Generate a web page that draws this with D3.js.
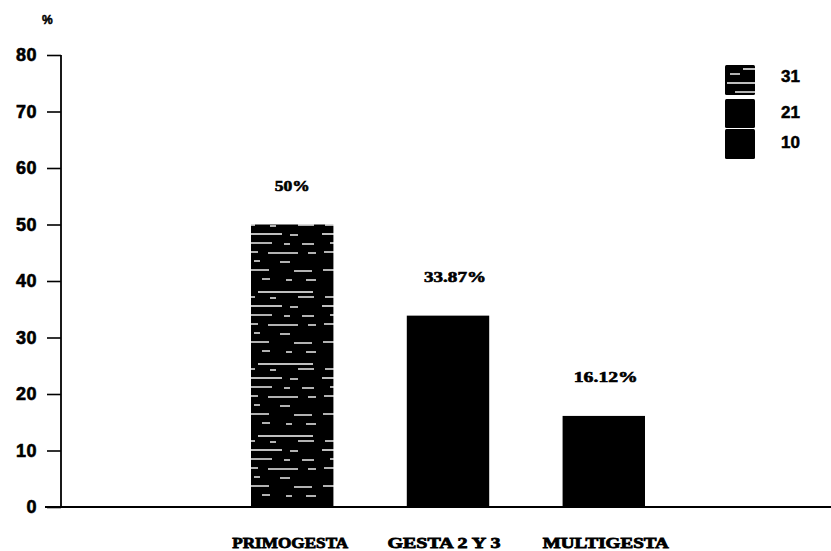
<!DOCTYPE html>
<html>
<head>
<meta charset="utf-8">
<script src="https://cdn.jsdelivr.net/npm/d3@7"></script>
<style>
  html, body { margin: 0; padding: 0; background: #fff; }
  svg { display: block; }
</style>
</head>
<body>
<svg id="chart" width="831" height="551"></svg>
<script>
// Gestation groups, share of cases (%) and case counts
const categories = ["PRIMOGESTA", "GESTA 2 Y 3", "MULTIGESTA"];
const percents = [50, 33.87, 16.12];
const valueLabels = ["50%", "33.87%", "16.12%"];
const counts = [31, 21, 10];
const yTicks = [0, 10, 20, 30, 40, 50, 60, 70, 80];

const svg = d3.select("#chart");
const W = 831;

// Plot frame
const x0 = 61, yBottom = 507, yTop = 55;

const y = d3.scaleLinear().domain([0, 80]).range([yBottom, yTop]);
const x = d3.scaleBand().domain(categories).range([251, 645])
  .paddingInner(0.471).paddingOuter(0);

// Speckled texture for the first group
const defs = svg.append("defs");
const pat = defs.append("pattern")
  .attr("id", "speckle").attr("patternUnits", "userSpaceOnUse")
  .attr("width", 80).attr("height", 72);
pat.append("rect").attr("width", 80).attr("height", 72).attr("fill", "#000");
const dashes = [
  [18, 4, 55], [5, 9, 10], [30, 10, 6], [58, 9, 16],
  [2, 18, 40], [50, 19, 8], [10, 27, 22], [44, 28, 6], [62, 28, 12],
  [4, 36, 14], [28, 37, 30], [68, 37, 8], [14, 45, 6], [40, 46, 10],
  [3, 54, 26], [54, 55, 18], [22, 63, 8], [46, 64, 6], [66, 64, 10]
];
pat.selectAll("line").data(dashes).join("line")
  .attr("x1", d => d[0]).attr("x2", d => d[0] + d[2])
  .attr("y1", d => d[1]).attr("y2", d => d[1])
  .attr("stroke", "#fff").attr("stroke-width", 1.4);

const fills = ["url(#speckle)", "#000", "#000"];

// Bars
svg.append("g").selectAll("rect").data(categories).join("rect")
  .attr("x", d => x(d))
  .attr("width", x.bandwidth())
  .attr("y", (d, i) => y(percents[i]))
  .attr("height", (d, i) => yBottom - y(percents[i]))
  .attr("fill", (d, i) => fills[i]);

// Value labels above bars
const valueWidths = [35, 62, 64];
const valueShift = [0, 7, 2];
svg.append("g").selectAll("text").data(categories).join("text")
  .attr("x", (d, i) => x(d) + x.bandwidth() / 2 + valueShift[i])
  .attr("y", (d, i) => y(percents[i]) - 34)
  .attr("text-anchor", "middle")
  .attr("font-family", "Liberation Serif, serif")
  .attr("font-weight", "bold")
  .attr("font-size", 15)
  .attr("stroke", "#000").attr("stroke-width", 0.6)
  .attr("textLength", (d, i) => valueWidths[i])
  .attr("lengthAdjust", "spacingAndGlyphs")
  .text((d, i) => valueLabels[i]);

// Category labels
const catWidths = [116, 113, 126];
const catShift = [-2, -4, 2];
svg.append("g").selectAll("text").data(categories).join("text")
  .attr("x", (d, i) => x(d) + x.bandwidth() / 2 + catShift[i])
  .attr("y", 548)
  .attr("text-anchor", "middle")
  .attr("font-family", "Liberation Serif, serif")
  .attr("font-weight", "bold")
  .attr("font-size", 15)
  .attr("stroke", "#000").attr("stroke-width", 0.8)
  .attr("textLength", (d, i) => catWidths[i])
  .attr("lengthAdjust", "spacingAndGlyphs")
  .text(d => d);

// Y axis
const yAxis = d3.axisLeft(y).tickValues(yTicks).tickSize(14).tickPadding(10);
const gy = svg.append("g").attr("transform", `translate(${x0},0)`).call(yAxis);
gy.select(".domain").remove();
gy.selectAll(".tick line").attr("stroke", "#000").attr("stroke-width", 1.6);
gy.selectAll(".tick text")
  .attr("font-family", "Liberation Sans, Arial, sans-serif")
  .attr("font-weight", "bold")
  .attr("font-size", 18)
  .attr("letter-spacing", 0.5)
  .attr("stroke", "#000").attr("stroke-width", 0.6)
  .attr("fill", "#000");
svg.append("line")
  .attr("x1", x0).attr("x2", x0)
  .attr("y1", y(80)).attr("y2", yBottom)
  .attr("stroke", "#000").attr("stroke-width", 1.8);

// Baseline
svg.append("line")
  .attr("x1", 45).attr("x2", W)
  .attr("y1", yBottom).attr("y2", yBottom)
  .attr("stroke", "#000").attr("stroke-width", 2);

// Unit label
svg.append("text")
  .attr("x", 42).attr("y", 24)
  .attr("font-family", "Liberation Sans, Arial, sans-serif")
  .attr("font-weight", "bold")
  .attr("font-size", 12)
  .attr("stroke", "#000").attr("stroke-width", 0.5)
  .text("%");

// Legend
const legend = svg.append("g").attr("transform", "translate(725,65)");
const rowY = [0, 34, 64];
const rowH = [30, 29, 30];
legend.selectAll("rect").data(counts).join("rect")
  .attr("x", 0).attr("y", (d, i) => rowY[i])
  .attr("width", 30).attr("height", (d, i) => rowH[i])
  .attr("rx", 1.5)
  .attr("fill", (d, i) => fills[i]);
legend.selectAll("text").data(counts).join("text")
  .attr("x", 56).attr("y", (d, i) => [17, 53, 83][i])
  .attr("font-family", "Liberation Sans, Arial, sans-serif")
  .attr("font-weight", "bold")
  .attr("font-size", 17)
  .attr("stroke", "#000").attr("stroke-width", 0.5)
  .text(d => d);
</script>
</body>
</html>
